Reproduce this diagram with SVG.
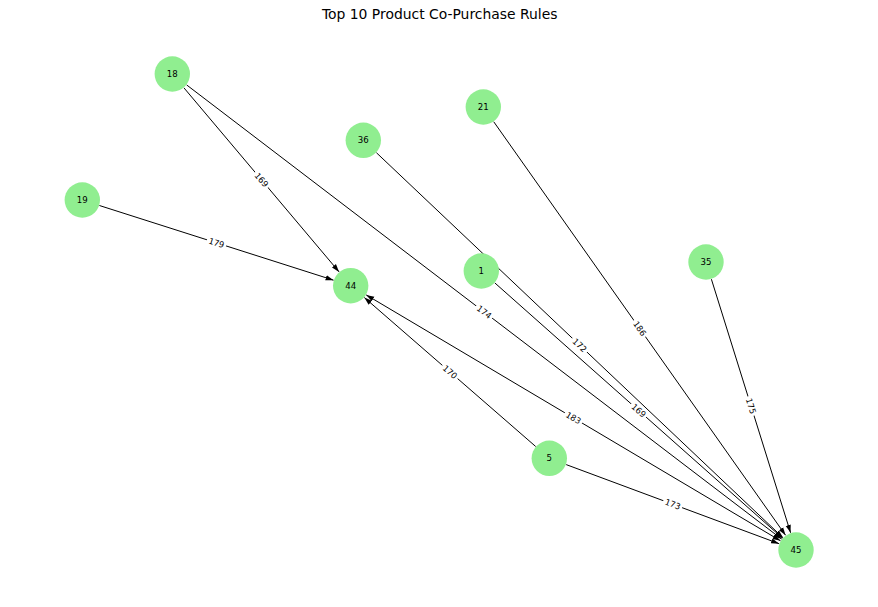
<svg xmlns="http://www.w3.org/2000/svg" width="878" height="607" viewBox="0 0 878 607">
<style>
.edge{stroke:#000;stroke-width:1;fill:none;marker-end:url(#arr)}
.node circle{fill:#90EE90;stroke:none}
.node text{font-family:"DejaVu Sans",sans-serif;font-size:8.6px;fill:#000;text-anchor:middle;dominant-baseline:central}
.elabel rect{fill:#fff;stroke:none}
.elabel text{font-family:"DejaVu Sans",sans-serif;font-size:8.4px;fill:#000;text-anchor:middle;dominant-baseline:central}
.title{font-family:"DejaVu Sans",sans-serif;font-size:13.9px;fill:#000;text-anchor:middle}
</style>
<defs>
<marker id="arr" markerUnits="userSpaceOnUse" viewBox="0 0 8 6" refX="8" refY="3" markerWidth="8" markerHeight="6" orient="auto">
<path d="M0,0.4 L8,3 L0,5.6 z" fill="#000"/>
</marker>
<marker id="arrs" markerUnits="userSpaceOnUse" viewBox="0 0 8 6" refX="0" refY="3" markerWidth="8" markerHeight="6" orient="auto">
<path d="M8,0.4 L0,3 L8,5.6 z" fill="#000"/>
</marker>
</defs>
<rect width="878" height="607" fill="#fff"/>
<text class="title" x="439.7" y="19">Top 10 Product Co-Purchase Rules</text>
<g id="edges">
<line class="edge" x1="183.9" y1="87.8" x2="339.1" y2="271.9"/>
<line class="edge" x1="186.6" y1="84.9" x2="781.7" y2="539.1"/>
<line class="edge" x1="99.4" y1="205.5" x2="333.6" y2="280.2"/>
<line class="edge" x1="376.4" y1="152.7" x2="782.9" y2="537.6"/>
<line class="edge" x1="494.8" y1="282.9" x2="782.5" y2="538.1"/>
<line class="edge" x1="493.7" y1="121.7" x2="785.6" y2="535.3"/>
<line class="edge" x1="711.4" y1="279.2" x2="790.6" y2="532.8"/>
<line class="edge" x1="535.7" y1="446.5" x2="364.3" y2="297.5"/>
<line class="edge" x1="566.2" y1="464.6" x2="779.1" y2="543.7"/>
<line class="edge" x1="366.2" y1="294.9" x2="780.5" y2="540.8" style="marker-start:url(#arrs)"/>
</g>
<g id="edge-labels">
<g class="elabel" transform="translate(261.5,179.9) rotate(49.9)"><rect x="-10" y="-5.5" width="20" height="11"/><text>169</text></g>
<g class="elabel" transform="translate(484.2,312) rotate(37.35)"><rect x="-10" y="-5.5" width="20" height="11"/><text>174</text></g>
<g class="elabel" transform="translate(216.5,242.9) rotate(17.7)"><rect x="-10" y="-5.5" width="20" height="11"/><text>179</text></g>
<g class="elabel" transform="translate(579.7,345.2) rotate(43.44)"><rect x="-10" y="-5.5" width="20" height="11"/><text>172</text></g>
<g class="elabel" transform="translate(638.7,410.5) rotate(41.56)"><rect x="-10" y="-5.5" width="20" height="11"/><text>169</text></g>
<g class="elabel" transform="translate(639.7,328.5) rotate(54.78)"><rect x="-10" y="-5.5" width="20" height="11"/><text>186</text></g>
<g class="elabel" transform="translate(751,406) rotate(72.65)"><rect x="-10" y="-5.5" width="20" height="11"/><text>175</text></g>
<g class="elabel" transform="translate(450,372) rotate(41)"><rect x="-10" y="-5.5" width="20" height="11"/><text>170</text></g>
<g class="elabel" transform="translate(672.7,504.2) rotate(20.39)"><rect x="-10" y="-5.5" width="20" height="11"/><text>173</text></g>
<g class="elabel" transform="translate(573.4,417.9) rotate(30.69)"><rect x="-10" y="-5.5" width="20" height="11"/><text>183</text></g>
</g>
<g id="node-18" class="node"><circle cx="172.3" cy="74" r="17.7"/><text x="172.3" y="74">18</text></g>
<g id="node-21" class="node"><circle cx="483.3" cy="107" r="17.7"/><text x="483.3" y="107">21</text></g>
<g id="node-36" class="node"><circle cx="363.3" cy="140.3" r="17.7"/><text x="363.3" y="140.3">36</text></g>
<g id="node-19" class="node"><circle cx="82.3" cy="200" r="17.7"/><text x="82.3" y="200">19</text></g>
<g id="node-35" class="node"><circle cx="706" cy="262" r="17.7"/><text x="706" y="262">35</text></g>
<g id="node-1" class="node"><circle cx="481.3" cy="271" r="17.7"/><text x="481.3" y="271">1</text></g>
<g id="node-44" class="node"><circle cx="350.7" cy="285.7" r="17.7"/><text x="350.7" y="285.7">44</text></g>
<g id="node-5" class="node"><circle cx="549.3" cy="458.3" r="17.7"/><text x="549.3" y="458.3">5</text></g>
<g id="node-45" class="node"><circle cx="796" cy="550" r="17.7"/><text x="796" y="550">45</text></g>
</svg>
